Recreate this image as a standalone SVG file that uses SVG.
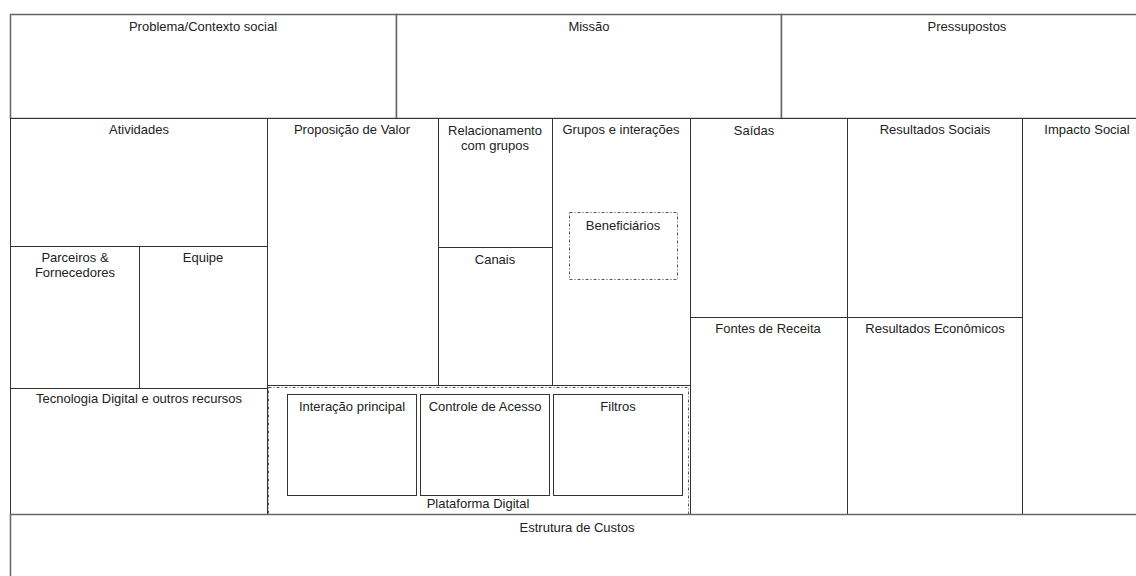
<svg xmlns="http://www.w3.org/2000/svg" width="1136" height="576" viewBox="0 0 1136 576">
  <style>
    .box { fill: #fff; stroke: #333; stroke-width: 1; }
    .outer { fill: #fff; stroke: #666; stroke-width: 1.5; }
    .dash { fill: none; stroke: #555; stroke-width: 1; stroke-dasharray: 3 2 1 2; }
    text { font-family: "Liberation Sans", Arial, sans-serif; font-size: 13px; fill: #222; text-anchor: middle; }
  </style>
  <rect width="1136" height="576" fill="#fff"/>

  <!-- top row -->
  <g id="problema">
    <rect class="outer" x="10.5" y="14.5" width="386" height="104"/>
    <text x="203" y="31">Problema/Contexto social</text>
  </g>
  <g id="missao">
    <rect class="outer" x="396.5" y="14.5" width="385" height="104"/>
    <text x="589" y="31">Missão</text>
  </g>
  <g id="pressupostos">
    <rect class="outer" x="781.5" y="14.5" width="372" height="104"/>
    <text x="967" y="31">Pressupostos</text>
  </g>

  <!-- resources column -->
  <g id="atividades">
    <rect class="box" x="10.5" y="118.5" width="257" height="128"/>
    <text x="139" y="134">Atividades</text>
  </g>
  <g id="parceiros">
    <rect class="box" x="10.5" y="246.5" width="129" height="142"/>
    <text x="75" y="262">Parceiros &amp;</text>
    <text x="75" y="277">Fornecedores</text>
  </g>
  <g id="equipe">
    <rect class="box" x="139.5" y="246.5" width="128" height="142"/>
    <text x="203" y="262">Equipe</text>
  </g>
  <g id="tecnologia">
    <rect class="box" x="10.5" y="388.5" width="257" height="126"/>
    <text x="139" y="403">Tecnologia Digital e outros recursos</text>
  </g>

  <!-- value and relations -->
  <g id="proposicao">
    <rect class="box" x="267.5" y="118.5" width="171" height="267"/>
    <text x="352" y="134">Proposição de Valor</text>
  </g>
  <g id="relacionamento">
    <rect class="box" x="438.5" y="118.5" width="114" height="129"/>
    <text x="495" y="135">Relacionamento</text>
    <text x="495" y="150">com grupos</text>
  </g>
  <g id="canais">
    <rect class="box" x="438.5" y="247.5" width="114" height="138"/>
    <text x="495" y="264">Canais</text>
  </g>
  <g id="grupos">
    <rect class="box" x="552.5" y="118.5" width="138" height="267"/>
    <text x="621" y="134">Grupos e interações</text>
  </g>
  <g id="beneficiarios">
    <rect class="dash" x="569.5" y="212.5" width="108" height="67"/>
    <text x="623" y="230">Beneficiários</text>
  </g>

  <!-- digital platform -->
  <g id="plataforma">
    <rect class="box" x="267.5" y="385.5" width="423" height="129"/>
    <rect class="dash" x="268.5" y="387.5" width="420" height="127"/>
    <text x="478" y="508">Plataforma Digital</text>
  </g>
  <g id="interacao">
    <rect class="box" x="287.5" y="394.5" width="129" height="101"/>
    <text x="352" y="411">Interação principal</text>
  </g>
  <g id="controle">
    <rect class="box" x="420.5" y="394.5" width="129" height="101"/>
    <text x="485" y="411">Controle de Acesso</text>
  </g>
  <g id="filtros">
    <rect class="box" x="553.5" y="394.5" width="129" height="101"/>
    <text x="618" y="411">Filtros</text>
  </g>

  <!-- outputs and results -->
  <g id="saidas">
    <rect class="box" x="690.5" y="118.5" width="157" height="199"/>
    <text x="754" y="135">Saídas</text>
  </g>
  <g id="fontes">
    <rect class="box" x="690.5" y="317.5" width="157" height="197"/>
    <text x="768" y="333">Fontes de Receita</text>
  </g>
  <g id="resultados-sociais">
    <rect class="box" x="847.5" y="118.5" width="175" height="199"/>
    <text x="935" y="134">Resultados Sociais</text>
  </g>
  <g id="resultados-economicos">
    <rect class="box" x="847.5" y="317.5" width="175" height="197"/>
    <text x="935" y="333">Resultados Econômicos</text>
  </g>
  <g id="impacto">
    <rect class="box" x="1022.5" y="118.5" width="130" height="396"/>
    <text x="1087" y="134">Impacto Social</text>
  </g>

  <!-- cost structure -->
  <g id="custos">
    <rect class="outer" x="10.5" y="514.5" width="1133" height="80"/>
    <text x="577" y="532">Estrutura de Custos</text>
  </g>
</svg>
